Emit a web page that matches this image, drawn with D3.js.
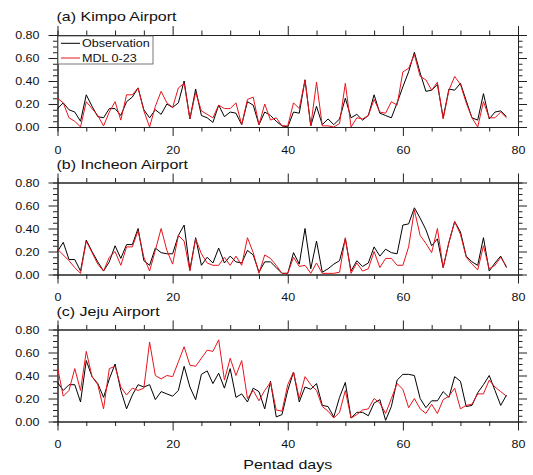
<!DOCTYPE html>
<html>
<head>
<meta charset="utf-8">
<script src="https://cdn.jsdelivr.net/npm/d3@7"></script>
<style>
  body { margin: 0; background: #fff; }
  svg { font-family: "Liberation Sans", Arial, sans-serif; }
</style>
</head>
<body>
<svg id="chart" width="533" height="475"></svg>
<script>
// pentad index 0..78
const pentad = d3.range(0, 79);

const kimpoObs = [0.16,0.21,0.15,0.13,0.05,0.28,0.18,0.09,0.08,0.16, 0.16,0.10,0.22,0.26,0.34,0.15,0.08,0.15,0.11,0.20,
  0.17,0.21,0.40,0.07,0.33,0.10,0.08,0.04,0.19,0.09, 0.13,0.12,0.02,0.22,0.19,0.02,0.13,0.10,0.05,0.01,
  0.00,0.13,0.12,0.41,0.01,0.18,0.02,0.07,0.02,0.07, 0.25,0.08,0.11,0.06,0.10,0.28,0.12,0.10,0.08,0.21,
  0.35,0.48,0.65,0.47,0.31,0.32,0.37,0.08,0.33,0.32, 0.38,0.23,0.08,0.06,0.29,0.07,0.13,0.14,0.09];
const kimpoMdl = [0.25,0.21,0.08,0.05,0.00,0.22,0.16,0.10,0.01,0.13, 0.22,0.06,0.28,0.28,0.34,0.14,0.00,0.18,0.31,0.21,
  0.17,0.34,0.38,0.07,0.30,0.14,0.11,0.08,0.19,0.16, 0.16,0.21,0.02,0.24,0.26,0.02,0.20,0.06,0.08,0.01,
  0.01,0.21,0.16,0.41,0.01,0.39,0.01,0.01,0.00,0.03, 0.38,0.00,0.08,0.07,0.10,0.24,0.13,0.12,0.22,0.19,
  0.48,0.51,0.63,0.44,0.41,0.32,0.39,0.07,0.32,0.44, 0.37,0.21,0.08,0.00,0.22,0.08,0.08,0.13,0.08];

const incheonObs = [0.20,0.28,0.13,0.13,0.03,0.30,0.20,0.11,0.03,0.11, 0.25,0.14,0.26,0.26,0.40,0.12,0.08,0.23,0.19,0.18,
  0.18,0.34,0.43,0.04,0.32,0.08,0.15,0.10,0.23,0.10, 0.16,0.11,0.10,0.21,0.17,0.02,0.11,0.11,0.06,0.01,
  0.01,0.19,0.09,0.40,0.05,0.29,0.02,0.05,0.09,0.12, 0.31,0.03,0.12,0.07,0.10,0.24,0.16,0.22,0.19,0.18,
  0.43,0.44,0.58,0.49,0.39,0.25,0.31,0.06,0.28,0.46, 0.37,0.16,0.11,0.08,0.32,0.03,0.10,0.16,0.06];
const incheonMdl = [0.22,0.17,0.12,0.06,0.01,0.29,0.19,0.09,0.03,0.15, 0.20,0.08,0.24,0.24,0.38,0.15,0.03,0.21,0.40,0.21,
  0.09,0.34,0.29,0.03,0.31,0.18,0.10,0.08,0.08,0.15, 0.08,0.16,0.08,0.32,0.19,0.01,0.17,0.14,0.08,0.01,
  0.01,0.15,0.07,0.08,0.01,0.10,0.01,0.01,0.01,0.02, 0.32,0.01,0.10,0.03,0.05,0.20,0.06,0.14,0.14,0.08,
  0.08,0.24,0.56,0.34,0.27,0.19,0.40,0.06,0.28,0.46, 0.35,0.15,0.09,0.04,0.25,0.05,0.08,0.15,0.07];

const jejuObs = [0.34,0.27,0.32,0.32,0.17,0.53,0.39,0.33,0.21,0.37, 0.50,0.27,0.11,0.23,0.32,0.30,0.32,0.19,0.26,0.24,
  0.22,0.27,0.48,0.30,0.19,0.41,0.44,0.33,0.42,0.29, 0.46,0.21,0.24,0.17,0.29,0.26,0.11,0.35,0.04,0.06,
  0.27,0.43,0.17,0.30,0.28,0.33,0.14,0.13,0.04,0.21, 0.34,0.03,0.08,0.08,0.05,0.16,0.19,0.01,0.13,0.36,
  0.41,0.41,0.40,0.20,0.12,0.18,0.18,0.26,0.21,0.39, 0.35,0.13,0.14,0.25,0.32,0.40,0.27,0.14,0.23];
const jejuMdl = [0.47,0.22,0.27,0.46,0.27,0.61,0.39,0.32,0.11,0.46, 0.48,0.30,0.23,0.29,0.27,0.29,0.69,0.40,0.37,0.40,
  0.39,0.52,0.65,0.49,0.48,0.55,0.62,0.61,0.71,0.36, 0.55,0.40,0.53,0.20,0.27,0.18,0.27,0.34,0.10,0.09,
  0.32,0.43,0.20,0.39,0.32,0.27,0.13,0.09,0.03,0.08, 0.27,0.03,0.06,0.10,0.11,0.20,0.16,0.07,0.20,0.33,
  0.28,0.12,0.20,0.11,0.07,0.15,0.07,0.19,0.22,0.29, 0.11,0.14,0.15,0.24,0.24,0.36,0.30,0.26,0.22];

const xTicks = [0, 20, 40, 60, 80];
const yTicks = [0, 0.2, 0.4, 0.6, 0.8];
const seriesNames = ["Observation", "MDL 0-23"];
const seriesColors = ["#000000", "#e8141c"];

const panels = [
  { title: "(a) Kimpo Airport", obs: kimpoObs, mdl: kimpoMdl, top: 35, legend: true },
  { title: "(b) Incheon Airport", obs: incheonObs, mdl: incheonMdl, top: 182.5 },
  { title: "(c) Jeju Airport", obs: jejuObs, mdl: jejuMdl, top: 329.5 }
];

var svg = d3.select("#chart"),
  left = 57.5, right = 518, ph = 92,
  sq = 0.84; // text in the original looks vertically squashed

var x = d3.scaleLinear().domain([0, 80]).range([left, right]);
var xMinor = d3.range(0, 81, 5).filter(d => d % 20 != 0);
var yMinor = d3.range(0, 0.81, 0.05).filter(d => Math.round(d * 100) % 20 != 0);

function squashText(sel, tx, ty) {
  sel.attr("y", null).attr("dy", null)
    .attr("transform", "translate(" + tx + "," + ty + ") scale(1," + sq + ")");
}

for (let p of panels) {
  let bottom = p.top + ph;
  let y = d3.scaleLinear().domain([0, 0.8]).range([bottom, p.top]);
  let g = svg.append("g");

  // minor ticks, all four sides (outward)
  g.append("g").attr("transform", "translate(0," + bottom + ")")
    .call(d3.axisBottom(x).tickValues(xMinor).tickSize(4.5).tickFormat(""));
  g.append("g").attr("transform", "translate(0," + p.top + ")")
    .call(d3.axisTop(x).tickValues(xMinor).tickSize(4.5).tickFormat(""));
  g.append("g").attr("transform", "translate(" + left + ",0)")
    .call(d3.axisLeft(y).tickValues(yMinor).tickSize(4.5).tickFormat(""));
  g.append("g").attr("transform", "translate(" + right + ",0)")
    .call(d3.axisRight(y).tickValues(yMinor).tickSize(4.5).tickFormat(""));

  // major ticks
  g.append("g").attr("class", "xax").attr("transform", "translate(0," + bottom + ")")
    .call(d3.axisBottom(x).tickValues(xTicks).tickSize(9).tickSizeOuter(0).tickFormat(d3.format("d")));
  g.append("g").attr("transform", "translate(0," + p.top + ")")
    .call(d3.axisTop(x).tickValues(xTicks).tickSize(9).tickSizeOuter(0).tickFormat(""));
  g.append("g").attr("class", "yax").attr("transform", "translate(" + left + ",0)")
    .call(d3.axisLeft(y).tickValues(yTicks).tickSize(9).tickSizeOuter(0).tickPadding(9).tickFormat(d3.format(".2f")));
  g.append("g").attr("transform", "translate(" + right + ",0)")
    .call(d3.axisRight(y).tickValues(yTicks).tickSize(9).tickSizeOuter(0).tickFormat(""));

  g.selectAll(".domain, .tick line").attr("stroke", "#222").attr("stroke-width", 1);
  g.selectAll(".xax text").attr("font-size", 12.5).attr("fill", "#111").call(squashText, 0, 26.5);
  g.selectAll(".yax text").attr("font-size", 12.5).attr("fill", "#111").call(squashText, 0, 3.8);

  // lines
  let line = d3.line().x((d, i) => x(pentad[i])).y(d => y(d));
  [p.obs, p.mdl].forEach((s, k) => {
    g.append("path")
      .datum(s)
      .attr("fill", "none")
      .attr("stroke", seriesColors[k])
      .attr("stroke-width", 1)
      .attr("stroke-linejoin", "round")
      .attr("d", line);
  });

  svg.append("text")
    .attr("font-size", 16)
    .attr("fill", "#111")
    .attr("transform", "translate(56.5," + (p.top - 13.6) + ") scale(1," + sq + ")")
    .text(p.title);

  if (p.legend) {
    let lg = svg.append("g").attr("transform", "translate(" + (left + 0.5) + "," + (p.top + 1) + ")");
    lg.append("rect").attr("width", 95).attr("height", 28)
      .attr("fill", "#fff").attr("stroke", "#555").attr("stroke-width", 0.8);
    seriesNames.forEach((n, k) => {
      let ry = 7.3 + k * 14.7;
      lg.append("line").attr("x1", 3).attr("x2", 22).attr("y1", ry).attr("y2", ry)
        .attr("stroke", seriesColors[k]).attr("stroke-width", 1);
      lg.append("text")
        .attr("transform", "translate(24," + (ry + 3.9) + ") scale(1," + sq + ")")
        .attr("font-size", 12.6).attr("fill", "#111").text(n);
    });
  }
}

svg.append("text")
  .attr("text-anchor", "middle")
  .attr("font-size", 16)
  .attr("fill", "#111")
  .attr("transform", "translate(" + ((left + right) / 2) + ",469) scale(1," + sq + ")")
  .text("Pentad days");
</script>
</body>
</html>
